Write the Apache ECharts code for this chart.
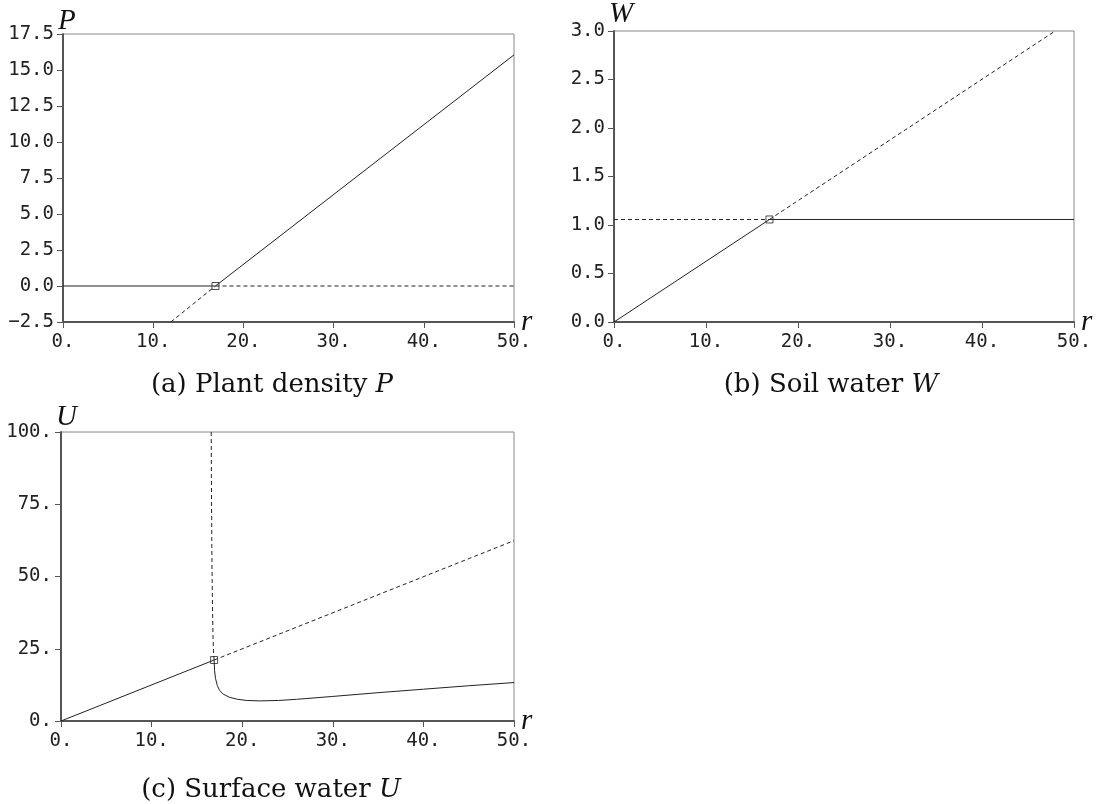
<!DOCTYPE html>
<html>
<head>
<meta charset="utf-8">
<script src="https://cdn.jsdelivr.net/npm/echarts@6/dist/echarts.min.js"></script>
<style>
html,body{margin:0;padding:0;background:#fff;}
#main{width:1099px;height:804px;}
</style>
</head>
<body>
<div id="main"></div>
<script>
// ---- data ----
const rTicks = [0, 10, 20, 30, 40, 50];
const pTicks = [-2.5, 17.5, 2.5];   // min, max, step
const wTicks = [0, 3, 0.5];
const uTicks = [0, 100, 25];

// Panel (a) plant density P
const pSolidZero   = [[0, 0], [16.9, 0]];
const pSolidBranch = [[16.9, 0], [50, 16.05]];
const pDashedZero  = [[16.9, 0], [50, 0]];
const pDashedBranch = [[11.95, -2.5], [16.9, 0]];
const pBif = [[16.9, 0]];

// Panel (b) soil water W
const wSolidBranch = [[0, 0], [16.9, 1.057]];
const wSolidFlat   = [[16.9, 1.057], [50, 1.057]];
const wDashedFlat  = [[0, 1.057], [16.9, 1.057]];
const wDashedBranch = [[16.9, 1.057], [47.95, 3.0]];
const wBif = [[16.9, 1.057]];

// Panel (c) surface water U
const uSolidBranch = [[0, 0], [16.9, 21.1]];
const uDashedBranch = [[16.9, 21.1], [50, 62.4]];
const uDashedVertical = [[16.58, 100], [16.6, 85], [16.63, 70], [16.66, 55], [16.7, 45], [16.74, 36], [16.78, 29], [16.83, 24.5], [16.9, 21.1]];
const uSolidLower = [[16.9, 21.1], [16.95, 17.5], [17.05, 14.8], [17.25, 12.3], [17.5, 10.6], [17.9, 9.3], [18.6, 8.2], [19.5, 7.5], [20.5, 7.1], [22, 6.95], [24, 7.1], [26, 7.5], [30, 8.5], [35, 9.8], [40, 11.0], [45, 12.2], [50, 13.3]];
const uBif = [[16.9, 21.1]];

// ---- styling helpers ----
const MONO = 'DejaVu Sans Mono';
const SERIF = 'Liberation Serif';
const CAP = 'DejaVu Serif';
const axisCol = '#555';

function xAxisFor(gridIndex) {
  return {
    type: 'value', gridIndex, min: rTicks[0], max: rTicks[rTicks.length - 1],
    interval: rTicks[1] - rTicks[0],
    name: 'r', nameLocation: 'end', nameGap: 7, nameMoveOverlap: false,
    nameTextStyle: { fontFamily: SERIF, fontStyle: 'italic', fontSize: 29, color: '#111', align: 'left', verticalAlign: 'middle' },
    axisLine: { show: true, onZero: false, lineStyle: { color: axisCol, width: 2 } },
    axisTick: { show: true, inside: false, length: 6, lineStyle: { color: axisCol, width: 1 } },
    axisLabel: { show: true, margin: 11, fontFamily: MONO, fontSize: 19, color: '#222', formatter: v => v + '.' },
    splitLine: { show: false }
  };
}
function yAxisFor(gridIndex, ticks, name, fmt, gap) {
  return {
    type: 'value', gridIndex, min: ticks[0], max: ticks[1], interval: ticks[2],
    name, nameLocation: 'end', nameGap: gap, nameMoveOverlap: false,
    nameTextStyle: { fontFamily: SERIF, fontStyle: 'italic', fontSize: 29, color: '#111', align: 'left', verticalAlign: 'bottom', padding: [0, 0, 0, -5] },
    axisLine: { show: true, onZero: false, lineStyle: { color: axisCol, width: 2 } },
    axisTick: { show: true, inside: false, length: 6, lineStyle: { color: axisCol, width: 1 } },
    axisLabel: { show: true, margin: 9, fontFamily: MONO, fontSize: 19, color: '#222', formatter: fmt },
    splitLine: { show: false }
  };
}
function line(xi, data, dashed) {
  return {
    type: 'line', xAxisIndex: xi, yAxisIndex: xi, data, showSymbol: false, symbol: 'none',
    lineStyle: { color: '#222', width: 1, type: dashed ? [4, 3] : 'solid' },
    silent: true, z: 3
  };
}
function bif(xi, data) {
  return {
    type: 'scatter', xAxisIndex: xi, yAxisIndex: xi, data, symbol: 'rect', symbolSize: 7,
    itemStyle: { color: 'rgba(0,0,0,0)', borderColor: '#222', borderWidth: 1 }, z: 5, silent: true
  };
}
const fmt1 = v => v.toFixed(1).replace('-', '\u2212');
const fmtInt = v => v + '.';

const gridBase = { show: true, borderColor: '#888', borderWidth: 1, backgroundColor: 'transparent', containLabel: false };

function caption(x, y, text, it) {
  return { type: 'text', x, y, style: { text: '{n|' + text + '}{i|' + it + '}', align: 'center', verticalAlign: 'middle',
    rich: { n: { fontFamily: CAP, fontSize: 26, fill: '#111' }, i: { fontFamily: CAP, fontSize: 26, fontStyle: 'italic', fill: '#111' } } } };
}

const option = {
  animation: false,
  backgroundColor: '#fff',
  grid: [
    Object.assign({ left: 63, top: 34, width: 451, height: 288 }, gridBase),
    Object.assign({ left: 614, top: 28, width: 460, height: 294 }, gridBase),
    Object.assign({ left: 61, top: 432, width: 453, height: 289 }, gridBase)
  ],
  xAxis: [xAxisFor(0), xAxisFor(1), xAxisFor(2)],
  yAxis: [
    yAxisFor(0, pTicks, 'P', fmt1, -2),
    yAxisFor(1, wTicks, 'W', fmt1, 2),
    yAxisFor(2, uTicks, 'U', fmtInt, 0)
  ],
  series: [
    line(0, pSolidZero, false), line(0, pSolidBranch, false),
    line(0, pDashedZero, true), line(0, pDashedBranch, true), bif(0, pBif),
    line(1, wSolidBranch, false), line(1, wSolidFlat, false),
    line(1, wDashedFlat, true), line(1, wDashedBranch, true), bif(1, wBif),
    line(2, uSolidBranch, false), line(2, uSolidLower, false),
    line(2, uDashedBranch, true), line(2, uDashedVertical, true), bif(2, uBif)
  ],
  graphic: [
    caption(272, 385, '(a) Plant density ', 'P'),
    caption(831, 385, '(b) Soil water ', 'W'),
    caption(271, 790, '(c) Surface water ', 'U')
  ]
};

const chart = echarts.init(document.getElementById('main'), null, { renderer: 'canvas' });
chart.setOption(option);
</script>
</body>
</html>
